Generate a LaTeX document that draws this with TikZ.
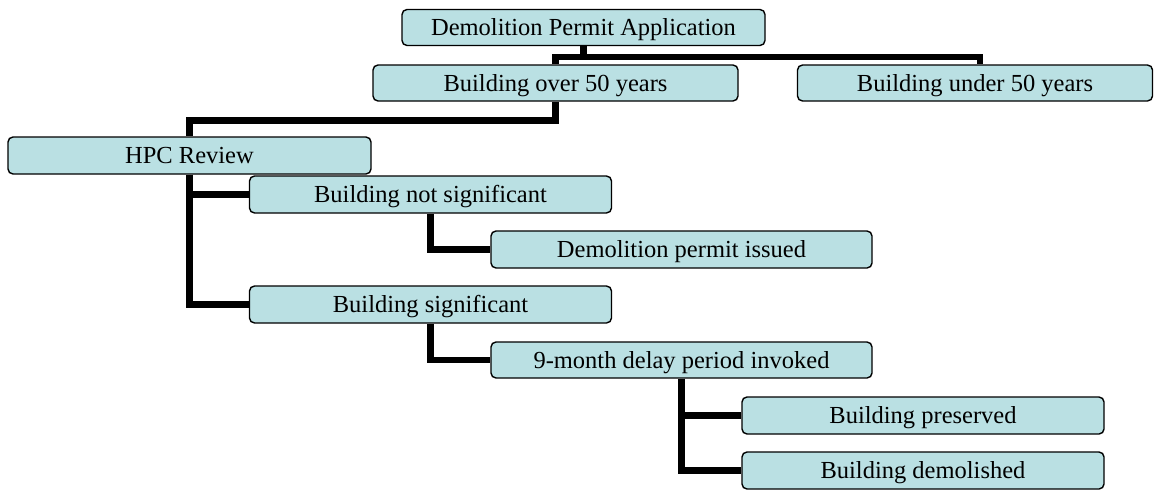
\documentclass[tikz,border=0pt]{standalone}
\usepackage{fontspec}
\setmainfont{Liberation Serif}
\usetikzlibrary{backgrounds}
\begin{document}
\begin{tikzpicture}[x=1pt,y=-1pt,
  box/.style={draw=black, line width=1.4pt, fill=boxfill, rounded corners=5pt,
    inner sep=0pt, minimum height=36pt, text height=18pt, text depth=2pt,
    font=\fontsize{24.5}{27}\selectfont},
  conn/.style={line width=6.5pt, draw=black}]
\definecolor{boxfill}{RGB}{186,224,227}
\useasboundingbox (0,0) rectangle (1154,490);
% nodes
\node[box, minimum width=363pt, minimum height=36pt] (dpa) at (583.5,27.5) {Demolition Permit Application};
\node[box, minimum width=365pt] (over50) at (555.5,83) {Building over 50 years};
\node[box, minimum width=355pt] (under50) at (975,83) {Building under 50 years};
\node[box, minimum width=363pt, minimum height=37pt] (hpc) at (189.5,155.5) {HPC Review};
\node[box, minimum width=362pt, minimum height=37pt] (notsig) at (430.5,194.5) {Building not significant};
\node[box, minimum width=381pt, minimum height=37pt] (issued) at (681.5,249.5) {Demolition permit issued};
\node[box, minimum width=362pt, minimum height=37pt] (sig) at (430.5,304.5) {Building significant};
\node[box, minimum width=381pt] (delay) at (681.5,360) {9-month delay period invoked};
\node[box, minimum width=362pt, minimum height=37pt] (pres) at (923,415.5) {Building preserved};
\node[box, minimum width=362pt, minimum height=37pt] (demo) at (923,470.5) {Building demolished};
% connectors (behind boxes)
\begin{scope}[on background layer]
\coordinate (j1) at (583.5,57);
\coordinate (j2) at (555.5,120.5);
\draw[conn] (dpa.south) -- (j1);
\draw[conn] (over50.north) |- (j1) -| ([xshift=5pt]under50.north);
\draw[conn] (over50.south) |- (j2) -| (hpc.north);
\draw[conn] (hpc.south) |- (notsig.west);
\draw[conn] (hpc.south) |- (sig.west);
\draw[conn] (notsig.south) |- (issued.west);
\draw[conn] (sig.south) |- (delay.west);
\draw[conn] (delay.south) |- (pres.west);
\draw[conn] (delay.south) |- (demo.west);
\end{scope}
\end{tikzpicture}
\end{document}
